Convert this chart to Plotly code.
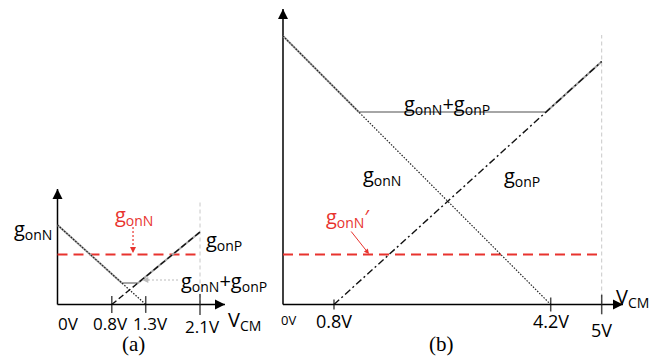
import plotly.graph_objects as go

# ---- panel (a): 2.1 V supply ----
a_ticks = [0.0, 0.8, 1.3, 2.1]
a_tick_labels = ["0V", "0.8V", "1.3V", "2.1V"]
a_gonN_x = [0.0, 1.3]
a_gonN_y = [7.95, 0.0]
a_gonP_x = [0.8, 2.1]
a_gonP_y = [0.0, 7.25]
a_sum_level = 2.15
a_gonN_prime = 5.0
a_vdd_top = 10.25

# ---- panel (b): 5 V supply ----
b_ticks = [0.0, 0.8, 4.2, 5.0]
b_tick_labels = ["0V", "0.8V", "4.2V", "5V"]
b_gonN_x = [0.0, 4.2]
b_gonN_y = [26.85, 0.0]
b_gonP_x = [0.8, 5.0]
b_gonP_y = [0.0, 24.3]
b_sum_level = 19.25
b_gonN_prime = 5.0
b_vdd_top = 26.95


def cross(xs, ys, level):
    """x where the straight segment (xs, ys) reaches the given level."""
    return xs[0] + (level - ys[0]) * (xs[1] - xs[0]) / (ys[1] - ys[0])


def sum_curve(nx, ny, px, py, level):
    xs = [nx[0], cross(nx, ny, level), cross(px, py, level), px[1]]
    ys = [ny[0], level, level, py[1]]
    return xs, ys


RED = "#e8332e"
GREY = "#a6a6a6"
FONT = "Open Sans"

fig = go.Figure()


def add_axes(xa, ya, x_tip, y_tip):
    common = dict(xaxis=xa, yaxis=ya, hoverinfo="skip", showlegend=False,
                  cliponaxis=False)
    fig.add_trace(go.Scatter(x=[0, x_tip], y=[0, 0], mode="lines",
                             line=dict(color="black", width=1.5), **common))
    fig.add_trace(go.Scatter(x=[0, 0], y=[0, y_tip], mode="lines",
                             line=dict(color="black", width=1.5), **common))
    fig.add_trace(go.Scatter(x=[x_tip, 0], y=[0, y_tip], mode="markers",
                             marker=dict(symbol=["arrow-right", "arrow-up"],
                                         size=10, color="black",
                                         line=dict(width=0)),
                             **common))


def add_panel(xa, ya, nx, ny, px, py, level, prime, ticks, tick_sizes,
              vdd_top, p_dash):
    vdd = ticks[-1]
    sx, sy = sum_curve(nx, ny, px, py, level)
    common = dict(xaxis=xa, yaxis=ya, hoverinfo="skip", showlegend=False,
                  cliponaxis=False)
    # supply rail marker
    fig.add_trace(go.Scatter(x=[vdd, vdd], y=[0, vdd_top], mode="lines",
                             line=dict(color="#c8c8c8", width=1,
                                       dash="4px,3px"), **common))
    # gonN' reference level
    fig.add_trace(go.Scatter(x=[0, vdd], y=[prime, prime], mode="lines",
                             line=dict(color=RED, width=2,
                                       dash="10px,6px"), **common))
    # total transconductance
    fig.add_trace(go.Scatter(x=sx, y=sy, mode="lines",
                             line=dict(color=GREY, width=2), **common))
    # NMOS pair
    fig.add_trace(go.Scatter(x=nx, y=ny, mode="lines",
                             line=dict(color="#222222", width=1.2,
                                       dash="1.5px,1.5px"), **common))
    # PMOS pair
    fig.add_trace(go.Scatter(x=px, y=py, mode="lines",
                             line=dict(color="#111111", width=1.4,
                                       dash=p_dash), **common))
    # tick marks across the V_CM axis
    fig.add_trace(go.Scatter(x=ticks[1:], y=[0] * (len(ticks) - 1),
                             mode="markers",
                             marker=dict(symbol="line-ns", size=tick_sizes,
                                         line=dict(color="black", width=1.5)),
                             **common))


add_axes("x", "y", 2.468, 11.55)
add_axes("x2", "y2", 5.334, 29.55)
add_panel("x", "y", a_gonN_x, a_gonN_y, a_gonP_x, a_gonP_y, a_sum_level,
          a_gonN_prime, a_ticks, [12, 12, 15], a_vdd_top, "6px,3px")
add_panel("x2", "y2", b_gonN_x, b_gonN_y, b_gonP_x, b_gonP_y, b_sum_level,
          b_gonN_prime, b_ticks, [7, 10, 14], b_vdd_top, "7px,3px,2px,3px")

# dotted leader lines (panel a)
fig.add_shape(type="line", xref="x", yref="y", x0=1.113, y0=7.75, x1=1.113,
              y1=5.7, line=dict(color=RED, width=1.2, dash="2px,2px"))
fig.add_shape(type="line", xref="x", yref="y", x0=1.776, y0=2.45, x1=1.33,
              y1=2.45, line=dict(color="#bbbbbb", width=1.2, dash="2px,2px"))

ann = []


def label(xr, yr, x, y, text, size=20, color="black", xanchor="center",
          family=FONT, xshift=0):
    ann.append(dict(xref=xr, yref=yr, x=x, y=y, text=text, showarrow=False,
                    xanchor=xanchor, yanchor="middle", xshift=xshift,
                    borderpad=0,
                    font=dict(family=family, size=size, color=color)))


gN = "g<sub>onN</sub>"
gP = "g<sub>onP</sub>"
vcm = "V<sub>CM</sub>"

# panel (a) texts
a_label_y = [-1.85, -1.85, -1.85, -2.2]
a_label_shift = [0, -1, 5, 2]
for v, t, yy, dx in zip(a_ticks, a_tick_labels, a_label_y, a_label_shift):
    label("x", "y", v, yy, t, size=17, xshift=dx,
          xanchor="left" if v == 0 else "center")
label("x", "y", -0.06, 7.45, gN, xanchor="right")
label("x", "y", 1.127, 8.85, gN, color=RED)
label("x", "y", 2.17, 6.35, gP, xanchor="left")
label("x", "y", 1.805, 2.35, gN + "+" + gP, xanchor="left")
label("x", "y", 2.497, -1.55, vcm, xanchor="left")
label("x", "y", 1.127, -3.9, "(a)", size=21, family="Liberation Serif")

# panel (b) texts
b_label_y = [-1.55, -1.65, -1.65, -2.55]
b_label_size = [13, 18, 18, 18]
for v, t, yy, sz in zip(b_ticks, b_tick_labels, b_label_y, b_label_size):
    label("x2", "y2", -0.04 if v == 0 else v, yy, t, size=sz,
          xanchor="left" if v == 0 else "center")
label("x2", "y2", 2.573, 19.95, gN + "+" + gP)
label("x2", "y2", 1.553, 12.85, gN)
label("x2", "y2", 3.75, 12.75, gP)
label("x2", "y2", 1.02, 8.65, gN + "′", color=RED)
label("x2", "y2", 5.21, 0.75, vcm, xanchor="left")
label("x2", "y2", 2.479, -3.95, "(b)", size=21, family="Liberation Serif")

# arrow heads for the leaders
ann.append(dict(xref="x", yref="y", x=1.113, y=5.15, ax=0, ay=-7, text="",
                showarrow=True, arrowhead=2, arrowsize=1, arrowwidth=1.2,
                arrowcolor=RED))
ann.append(dict(xref="x", yref="y", x=1.25, y=2.45, ax=8, ay=0, text="",
                showarrow=True, arrowhead=2, arrowsize=1, arrowwidth=1.2,
                arrowcolor="#bbbbbb"))
ann.append(dict(xref="x2", yref="y2", axref="x2", ayref="y2", x=1.349,
                y=5.05, ax=1.051, ay=7.45, text="", showarrow=True,
                arrowhead=2, arrowsize=1, arrowwidth=1, arrowcolor=RED))

# 10 px per y unit, y = 0 on pixel row 304.5
PX_Y = 10.0
Y0 = 304.5
y_range = [-5.8, 30]
ydom = [(363 - (Y0 - y_range[0] * PX_Y)) / 363,
        (363 - (Y0 - y_range[1] * PX_Y)) / 363]

# x scales: pixel column of 0 V and pixels per volt
A0, A_PX = 57.5, 67.86
B0, B_PX = 283.0, 63.74
xa_range = [-0.84, 2.5]
xb_range = [-0.3, 5.6]

hidden = dict(showgrid=False, zeroline=False, showticklabels=False,
              showline=False, ticks="", fixedrange=True)
fig.update_layout(
    width=663, height=363,
    margin=dict(l=0, r=0, t=0, b=0),
    paper_bgcolor="white", plot_bgcolor="white",
    xaxis=dict(domain=[(A0 + xa_range[0] * A_PX) / 663,
                       (A0 + xa_range[1] * A_PX) / 663],
               range=xa_range, anchor="y", **hidden),
    yaxis=dict(domain=ydom, range=y_range, anchor="x", **hidden),
    xaxis2=dict(domain=[(B0 + xb_range[0] * B_PX) / 663,
                        (B0 + xb_range[1] * B_PX) / 663],
                range=xb_range, anchor="y2", **hidden),
    yaxis2=dict(domain=ydom, range=y_range, anchor="x2", **hidden),
    annotations=ann,
)

fig.write_html("out.html")
